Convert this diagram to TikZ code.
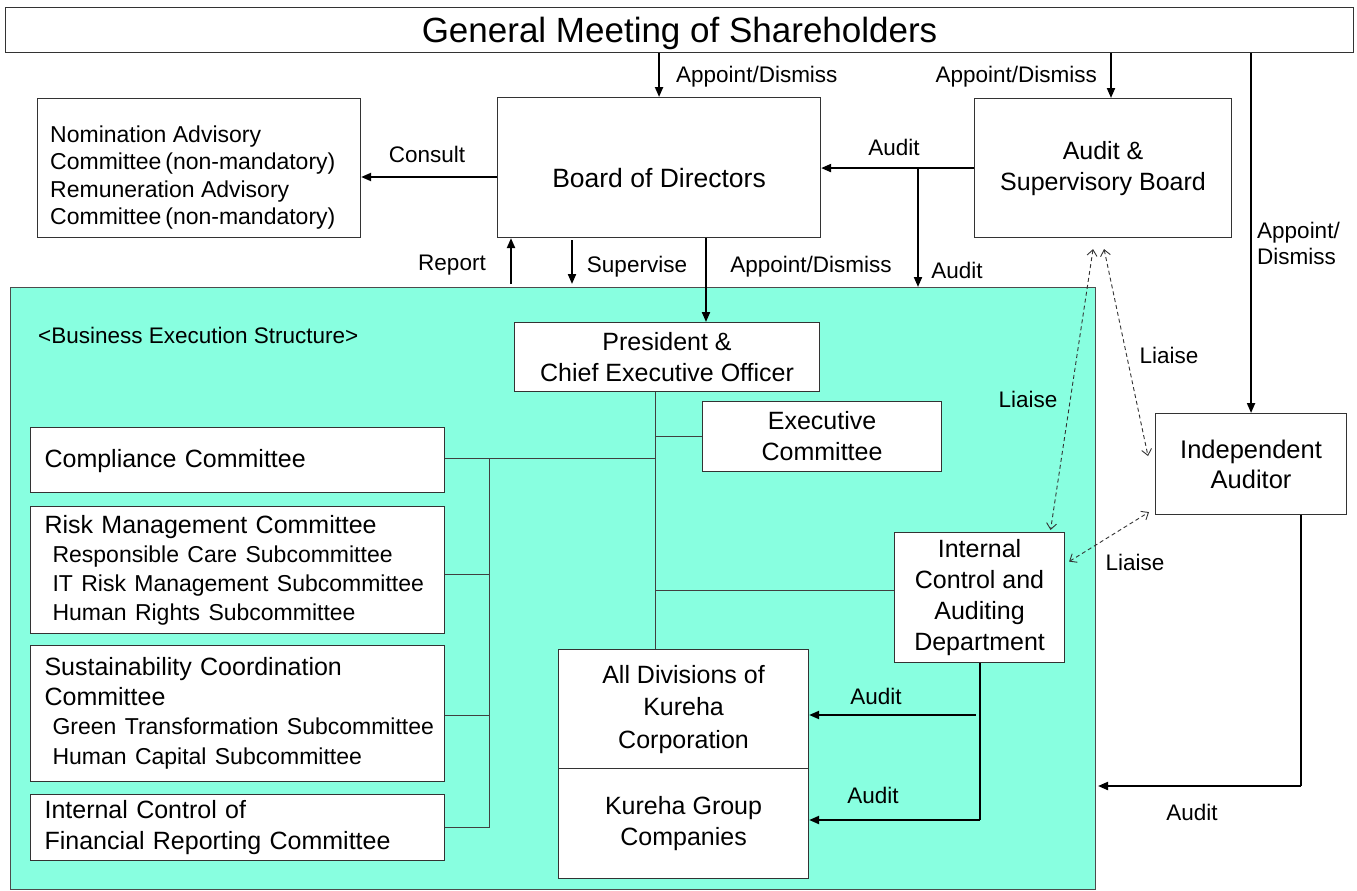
\documentclass[tikz,border=0pt]{standalone}
\usepackage{fontspec}
\setmainfont{Liberation Sans}
\usetikzlibrary{arrows.meta,calc}
\definecolor{bgteal}{RGB}{136,255,224}
\newcommand{\fpl}{\kern4pt(}
\newcommand{\fpr}{)}
\begin{document}
\begin{tikzpicture}[x=1pt,y=-1pt,
  box/.style={draw=black!80, line width=1.1pt, fill=white, inner sep=0pt, align=center,
    anchor=north west, font=\fontsize{25}{31}\selectfont},
  lbox/.style={box, align=left},
  arr/.style={line width=2pt, -{Triangle[length=10pt,width=8pt]}},
  lbl/.style={font=\fontsize{22.5}{26}\selectfont, inner sep=0pt},
  tree/.style={line width=1pt, draw=black!75},
  dsh/.style={line width=0.9pt, draw=black!80, dash pattern=on 4pt off 3pt,
    {Straight Barb[length=6pt,width=10pt]}-{Straight Barb[length=6pt,width=10pt]}}
]
\useasboundingbox (0,0) rectangle (1357,891);
\fill[white] (0,0) rectangle (1357,891);

% business execution background
\node[draw=black!70, line width=1pt, fill=bgteal, inner sep=0pt, anchor=north west,
  minimum width=1085, minimum height=602] (bes) at (10,287) {};
\node[lbl, anchor=west] (bestitle) at (38,335) {<Business Execution Structure>};

% top boxes
\node[box, minimum width=1348, minimum height=45, text height=29, text depth=4,
  font=\fontsize{35}{40}\selectfont] (gm) at (5,7) {General Meeting of Shareholders};
\node[box, minimum width=323, minimum height=140, font=\fontsize{26.5}{31}\selectfont] (bod) at (497,97)
  {\raisebox{-19.5pt}[0pt][0pt]{Board of Directors}};
\node[box, minimum width=323, minimum height=139] (nom) at (37,98) {};
\node[inner sep=0pt, anchor=north west, align=left, font=\fontsize{23}{27.5}\selectfont] (nomtext)
  at ($(nom.north west)+(13,27.5)$)
  {Nomination Advisory\\Committee\fpl non-mandatory\fpr\\Remuneration Advisory\\Committee\fpl non-mandatory\fpr};
\node[box, minimum width=257, minimum height=139] (asb) at (974,98) {Audit \&\\Supervisory Board};

% execution boxes
\node[box, minimum width=305, minimum height=69] (pres) at (514,322) {President \&\\Chief Executive Officer};
\node[box, minimum width=239, minimum height=70] (exec) at (702,401) {Executive\\Committee};
\node[lbox, minimum width=414, minimum height=65, text width=386, text height=18, text depth=3] (compl) at (30,427) {\mbox{Compliance Committee}};
\node[lbox, minimum width=414, minimum height=127, text width=386, font=\fontsize{25}{29}\selectfont] (risk) at (30,506)
  {\mbox{Risk Management Committee}\\
   \mbox{\hspace*{8pt}\fontsize{23}{29}\selectfont Responsible Care Subcommittee}\\
   \mbox{\hspace*{8pt}\fontsize{23}{29}\selectfont IT Risk Management Subcommittee}\\
   \mbox{\hspace*{8pt}\fontsize{23}{29}\selectfont Human Rights Subcommittee}};
\node[lbox, minimum width=414, minimum height=136, text width=386, font=\fontsize{25}{29.5}\selectfont] (sust) at (30,645)
  {\mbox{Sustainability Coordination}\\\mbox{Committee}\\
   \mbox{\hspace*{8pt}\fontsize{23}{29}\selectfont Green Transformation Subcommittee}\\
   \mbox{\hspace*{8pt}\fontsize{23}{29}\selectfont Human Capital Subcommittee}};
\node[lbox, minimum width=414, minimum height=66, text width=386] (icfr) at (30,794)
  {\mbox{Internal Control of}\\\mbox{Financial Reporting Committee}};
\node[box, minimum width=170, minimum height=130, font=\fontsize{25}{30.7}\selectfont] (icad) at (894,532)
  {Internal\\Control and\\Auditing\\Department};
\node[box, minimum width=250, minimum height=119, font=\fontsize{25}{32.5}\selectfont] (alldiv) at (558,649)
  {All Divisions of\\Kureha\\Corporation};
\node[box, minimum width=250, minimum height=110] (group) at (558,768) {Kureha Group\\Companies};
\node[box, minimum width=191, minimum height=101, font=\fontsize{25.5}{30}\selectfont] (ia) at (1155,413) {Independent\\Auditor};

% helper coordinates
\coordinate (trunk) at (655,0);
\coordinate (bus) at (489,0);
\coordinate (auxA) at (1111,0);
\coordinate (auxAudit) at (918,0);
\coordinate (auxRep) at (511,0);
\coordinate (auxSup) at (572,0);
\coordinate (auxApp) at (706,0);
\coordinate (auxIA) at (1301,0);
\coordinate (yIA) at (0,786);
\coordinate (yDiv) at (0,715);
\coordinate (yGrp) at (0,820);
\coordinate (yCons) at (0,177);

% top arrows
\draw[arr] (gm.south -| bod.north) -- (bod.north);
\node[lbl, anchor=west] (l1) at (676,77) {Appoint/Dismiss};
\draw[arr] (gm.south -| auxA) -- (asb.north -| auxA);
\node[lbl, anchor=east] (l2) at (1097,77) {Appoint/Dismiss};
\draw[arr] (gm.south -| ia.north) -- (ia.north);
\node[lbl, anchor=west, align=left, font=\fontsize{22.5}{26}\selectfont] (l3) at (1257,243) {Appoint/\\Dismiss};
\draw[arr] (asb.west) -- (asb.west -| bod.east);
\node[lbl] (l4) at (894,147) {Audit};
\draw[arr] (asb.west -| auxAudit) -- (bes.north -| auxAudit);
\node[lbl] (l5) at (957,270) {Audit};
\draw[arr] (bod.west |- yCons) -- (nom.east |- yCons);
\node[lbl] (l6) at (427,154) {Consult};
\draw[arr] ($(bes.north -| auxRep)+(0,-3)$) -- (bod.south -| auxRep);
\node[lbl] (l7) at (452,265) {Report};
\draw[arr] ($(bod.south -| auxSup)+(0,2)$) -- ($(bes.north -| auxSup)+(0,-3)$);
\node[lbl] (l8) at (637,267) {Supervise};
\draw[arr] (bod.south -| auxApp) -- (pres.north -| auxApp);
\node[lbl] (l9) at (811,267) {Appoint/Dismiss};

% organisation tree
\draw[tree] (pres.south -| trunk) -- (alldiv.north -| trunk);
\draw[tree] (exec.west -| trunk) -- (exec.west);
\draw[tree] ($(compl.east)+(0,-2)$) -- ($(compl.east -| trunk)+(0,-2)$);
\draw[tree] ($(compl.east -| bus)+(0,-2)$) -- (icfr.east -| bus);
\draw[tree] ($(risk.east)+(0,4)$) -- ($(risk.east -| bus)+(0,4)$);
\draw[tree] ($(sust.east)+(0,2)$) -- ($(sust.east -| bus)+(0,2)$);
\draw[tree] (icfr.east) -- (icfr.east -| bus);
\draw[tree] ($(icad.west -| trunk)+(0,-7)$) -- ($(icad.west)+(0,-7)$);

% internal audit arrows
\draw[line width=2pt] (icad.south) -- (icad.south |- yGrp);
\draw[arr] (icad.south |- yGrp) -- (group.east |- yGrp);
\draw[arr] ($(icad.south |- yDiv)+(-4,0)$) -- (alldiv.east |- yDiv);
\node[lbl] (l10) at (876,696) {Audit};
\node[lbl] (l11) at (873,795) {Audit};

% independent auditor audit
\draw[line width=2pt] (ia.south -| auxIA) -- (auxIA |- yIA);
\draw[arr] (auxIA |- yIA) -- ($(bes.east |- yIA)+(2,0)$);
\node[lbl] (l12) at (1192,812) {Audit};

% liaise
\coordinate (la1) at ($(asb.south)+(-10,11)$);
\coordinate (la2) at ($(asb.south)+(1,11)$);
\draw[dsh] (la1) -- ($(icad.north)+(71,-2)$);
\node[lbl] (l13) at (1028,399) {Liaise};
\draw[dsh] (la2) -- ($(ia.west)+(-7,-8)$);
\node[lbl] (l14) at (1169,355) {Liaise};
\draw[dsh] ($(icad.east)+(4,-36)$) -- ($(ia.south west)+(-6,-3)$);
\node[lbl] (l15) at (1135,562) {Liaise};
\end{tikzpicture}
\end{document}
